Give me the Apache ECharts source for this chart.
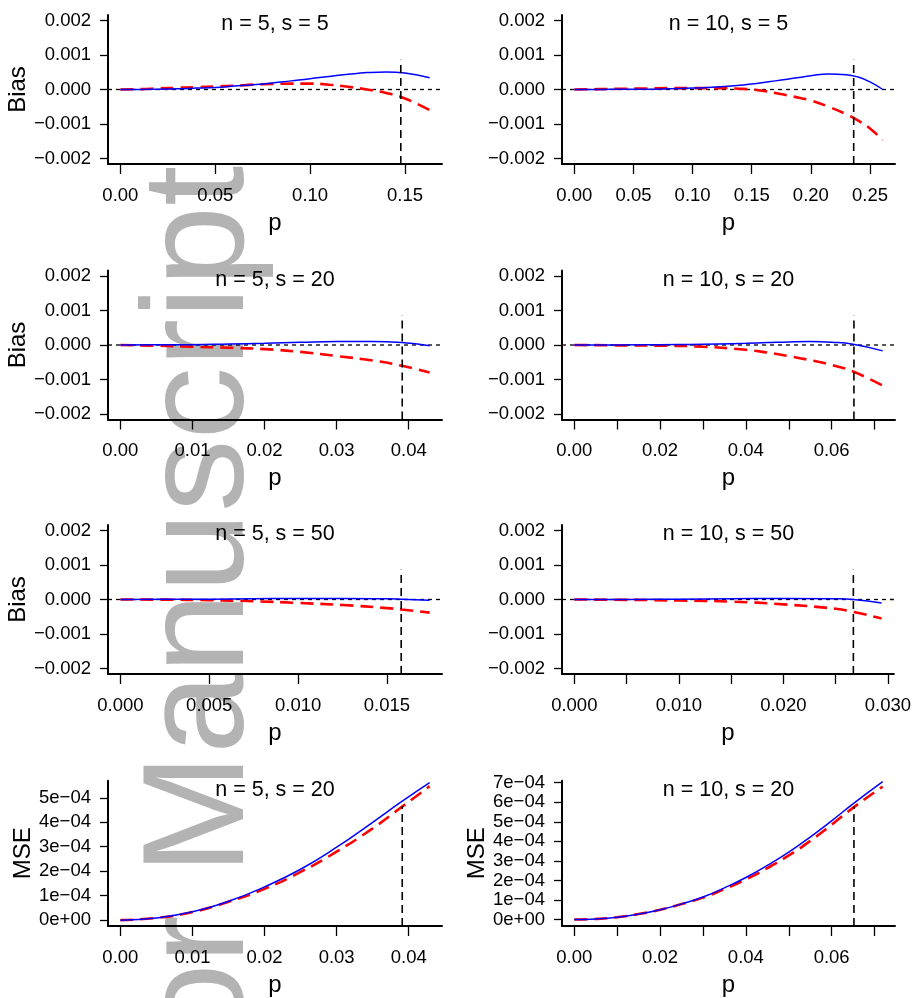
<!DOCTYPE html>
<html><head><meta charset="utf-8">
<script src="https://cdn.jsdelivr.net/npm/echarts@6/dist/echarts.min.js"></script>
<style>html,body{margin:0;padding:0;background:#fff}#c{width:914px;height:998px}</style>
</head><body><div id="c"></div>
<script>
// ---------- DATA ----------
const panelTitles = ['n = 5, s = 5', 'n = 10, s = 5', 'n = 5, s = 20', 'n = 10, s = 20',
                     'n = 5, s = 50', 'n = 10, s = 50', 'n = 5, s = 20', 'n = 10, s = 20'];
const yNames = ['Bias', '', 'Bias', '', 'Bias', '', 'MSE', 'MSE'];
const watermarkText = 'Author Manuscript';

const pA = [0,0.01,0.02,0.03,0.04,0.05,0.06,0.07,0.08,0.09,0.10,0.11,0.12,0.13,0.14,0.15,0.163];
const blueA = [0,0,0.00001,0.00002,0.00004,0.00006,0.0001,0.00014,0.00019,0.00025,0.00031,0.00038,0.00044,0.00049,0.00051,0.00048,0.00034];
const redA = [0,0.00001,0.00003,0.00005,0.00007,0.00009,0.00011,0.00014,0.00016,0.00017,0.00017,0.00014,0.00008,0.0,-0.0001,-0.00026,-0.0006];

const pB = [0,0.02,0.04,0.06,0.08,0.10,0.12,0.14,0.15,0.16,0.17,0.18,0.19,0.20,0.215,0.23,0.24,0.25,0.2607];
const blueB = [0,0,0.00001,0.00001,0.00002,0.00004,0.00007,0.00012,0.00016,0.0002,0.00025,0.0003,0.00035,0.0004,0.00045,0.00043,0.00036,0.00022,0];
const redB = [0,0.00001,0.00002,0.00003,0.00004,0.00004,0.00004,0.00002,0,-0.00004,-0.0001,-0.00017,-0.00024,-0.00032,-0.0005,-0.00072,-0.0009,-0.00113,-0.00147];

const pC = [0,0.005,0.01,0.015,0.02,0.025,0.03,0.035,0.039,0.0429];
const blueC = [0,0.000005,0.00001,0.00003,0.00005,0.00008,0.0001,0.0001,0.00007,-0.00002];
const redC = [0,-0.00002,-0.00005,-0.00008,-0.00012,-0.0002,-0.00032,-0.00045,-0.0006,-0.0008];

const pD = [0,0.01,0.02,0.03,0.04,0.045,0.05,0.055,0.06,0.065,0.0719];
const blueD = [0,0,0.00001,0.00002,0.00005,0.00007,0.00009,0.0001,0.00008,0.00002,-0.00017];
const redD = [0,-0.00001,-0.00002,-0.00005,-0.00014,-0.00022,-0.00032,-0.00044,-0.00058,-0.00077,-0.00118];

const pE = [0,0.0025,0.005,0.0075,0.01,0.0125,0.015,0.0158,0.0174];
const blueE = [0,0.000005,0.00001,0.00002,0.00003,0.00003,0.00002,0.00001,-0.00002];
const redE = [0,-0.000005,-0.00002,-0.00005,-0.0001,-0.00016,-0.00025,-0.00029,-0.00038];

const pF = [0,0.005,0.01,0.015,0.02,0.025,0.0267,0.0294];
const blueF = [0,0,0.00001,0.00002,0.00003,0.00002,0,-0.0001];
const redF = [0,-0.00001,-0.00003,-0.00006,-0.00014,-0.00027,-0.00036,-0.00055];

const pG = [0,0.005,0.01,0.015,0.02,0.025,0.03,0.035,0.039,0.0429];
const blueG = [0,0.000009,0.000034,0.000077,0.000136,0.000208,0.000298,0.0004,0.000484,0.000562];
const redG = [0,0.000009,0.000033,0.000075,0.000128,0.000197,0.00028,0.000375,0.000462,0.000547];

const pH = [0,0.005,0.01,0.015,0.02,0.025,0.03,0.035,0.04,0.045,0.05,0.055,0.06,0.0652,0.0719];
const blueH = [0,0.000003,0.000012,0.000028,0.00005,0.00008,0.000115,0.000162,0.000215,0.000277,0.000345,0.000422,0.000505,0.000595,0.000705];
const redH = [0,0.000003,0.000012,0.000028,0.00005,0.000079,0.000112,0.000156,0.000205,0.000263,0.000328,0.000402,0.000485,0.000575,0.00068];

const vlineP = [0.1478, 0.2362, 0.0391, 0.0652, 0.0158, 0.0267, 0.0391, 0.0652];
const vlineTop = [0.00086, 0.00086, 0.00086, 0.00086, 0.00086, 0.00086, 0.000467, 0.000578];

const xTicks = [
  [0,0.05,0.10,0.15], [0,0.05,0.10,0.15,0.20,0.25],
  [0,0.01,0.02,0.03,0.04], [0,0.01,0.02,0.03,0.04,0.05,0.06,0.07],
  [0,0.005,0.010,0.015], [0,0.005,0.010,0.015,0.020,0.025,0.030],
  [0,0.01,0.02,0.03,0.04], [0,0.01,0.02,0.03,0.04,0.05,0.06,0.07]
];
const xLabels = [
  [0,0.05,0.10,0.15], [0,0.05,0.10,0.15,0.20,0.25],
  [0,0.01,0.02,0.03,0.04], [0,0.02,0.04,0.06],
  [0,0.005,0.010,0.015], [0,0.010,0.020,0.030],
  [0,0.01,0.02,0.03,0.04], [0,0.02,0.04,0.06]
];
const xDigits = [2,2,2,2,3,3,2,2];
const biasTicks = [-0.002,-0.001,0,0.001,0.002];
const mseTicksG = [0,0.0001,0.0002,0.0003,0.0004,0.0005];
const mseTicksH = [0,0.0001,0.0002,0.0003,0.0004,0.0005,0.0006,0.0007];

const panels = [
  {p: pA, blue: blueA, red: redA}, {p: pB, blue: blueB, red: redB},
  {p: pC, blue: blueC, red: redC}, {p: pD, blue: blueD, red: redD},
  {p: pE, blue: blueE, red: redE}, {p: pF, blue: blueF, red: redF},
  {p: pG, blue: blueG, red: redG}, {p: pH, blue: blueH, red: redH}
];

// ---------- LAYOUT ----------
const FONT = "'Liberation Sans', Arial, Helvetica, sans-serif";
const colLeft = [108, 562], colWidth = [334, 333];
const rowTop = [15, 270.5, 525, 780.7], gridH = 149;
const yRanges = [[-0.00216,0.00216],[-0.00216,0.00216],[-0.00216,0.00216],[-0.00216,0.00216],
                 [-0.00216,0.00216],[-0.00216,0.00216],[-0.000024,0.00057],[-0.000033,0.00071]];

const grid = [], xAxis = [], yAxis = [], series = [], graphic = [];

graphic.push({
  type: 'text', x: 203, y: 754, rotation: Math.PI / 2, z: -100, silent: true,
  style: {text: watermarkText, fontSize: 145, fontFamily: FONT, fill: '#b3b3b3',
          align: 'center', verticalAlign: 'middle'}
});

panels.forEach((pan, i) => {
  const col = i % 2, row = Math.floor(i / 2);
  const left = colLeft[col], top = rowTop[row], w = colWidth[col];
  grid.push({left: left, top: top, width: w, height: gridH, containLabel: false});
  const pmax = Math.max(...pan.p);
  const xMin = -0.04 * pmax, xMax = 1.04 * pmax;
  const yr = yRanges[i];
  const isMSE = i >= 6;
  const d = xDigits[i];
  xAxis.push({
    type: 'value', gridIndex: i, min: xMin, max: xMax,
    splitLine: {show: false},
    axisLine: {show: true, onZero: false, lineStyle: {color: '#000', width: 2}},
    axisTick: {show: true, customValues: xTicks[i], length: 10, inside: false,
               lineStyle: {color: '#000', width: 1.3}},
    axisLabel: {customValues: xLabels[i], formatter: v => Number(v).toFixed(d),
                fontSize: 18.5, color: '#000', fontFamily: FONT, margin: 22},
    name: 'p', nameLocation: 'middle', nameGap: 47,
    nameTextStyle: {fontSize: 24, color: '#000', fontFamily: FONT}
  });
  yAxis.push({
    type: 'value', gridIndex: i, min: yr[0], max: yr[1],
    splitLine: {show: false},
    axisLine: {show: true, onZero: false, lineStyle: {color: '#000', width: 2}},
    axisTick: {show: true, customValues: isMSE ? (i === 6 ? mseTicksG : mseTicksH) : biasTicks,
               length: 8, lineStyle: {color: '#000', width: 1.3}},
    axisLabel: {customValues: isMSE ? (i === 6 ? mseTicksG : mseTicksH) : biasTicks,
                formatter: isMSE
                  ? (v => { const m = Math.round(v * 1e4); return m === 0 ? '0e+00' : m + 'e\u221204'; })
                  : (v => { const a = Math.abs(v) < 1e-9 ? 0 : v; return (a < 0 ? '\u2212' : '') + Math.abs(a).toFixed(3); }),
                fontSize: 18.5, color: '#000', fontFamily: FONT, margin: 17},
    name: yNames[i], nameLocation: 'middle', nameGap: 70, nameRotate: 90,
    nameTextStyle: {fontSize: 24, color: '#000', fontFamily: FONT}
  });
  graphic.push({
    type: 'text', x: left + w / 2, y: top + 9.5, z: 10,
    style: {text: panelTitles[i], fontSize: 21.5, fontFamily: FONT, fill: '#000',
            align: 'center', verticalAlign: 'middle'}
  });
  if (!isMSE) {
    series.push({
      type: 'line', xAxisIndex: i, yAxisIndex: i, showSymbol: false, silent: true,
      data: [[xMin, 0], [xMax, 0]],
      lineStyle: {color: '#000', width: 1.3, type: [4, 4]}, z: 1
    });
  }
  series.push({
    type: 'line', xAxisIndex: i, yAxisIndex: i, showSymbol: false, smooth: 0.5,
    data: pan.p.map((x, k) => [x, pan.red[k]]),
    lineStyle: {color: '#FF0000', width: 2.6, type: [13, 7]}, z: 2
  });
  series.push({
    type: 'line', xAxisIndex: i, yAxisIndex: i, showSymbol: false, smooth: 0.5,
    data: pan.p.map((x, k) => [x, pan.blue[k]]),
    lineStyle: {color: '#0000FF', width: 1.5}, z: 3
  });
  series.push({
    type: 'line', xAxisIndex: i, yAxisIndex: i, showSymbol: false, silent: true,
    data: [[vlineP[i], yr[0]], [vlineP[i], vlineTop[i]]],
    lineStyle: {color: '#000', width: 1.6, type: [8, 5]}, z: 4
  });
});

const chart = echarts.init(document.getElementById('c'), null, {renderer: 'canvas'});
chart.setOption({
  animation: false, backgroundColor: '#fff',
  grid, xAxis, yAxis, series, graphic
});
</script></body></html>
